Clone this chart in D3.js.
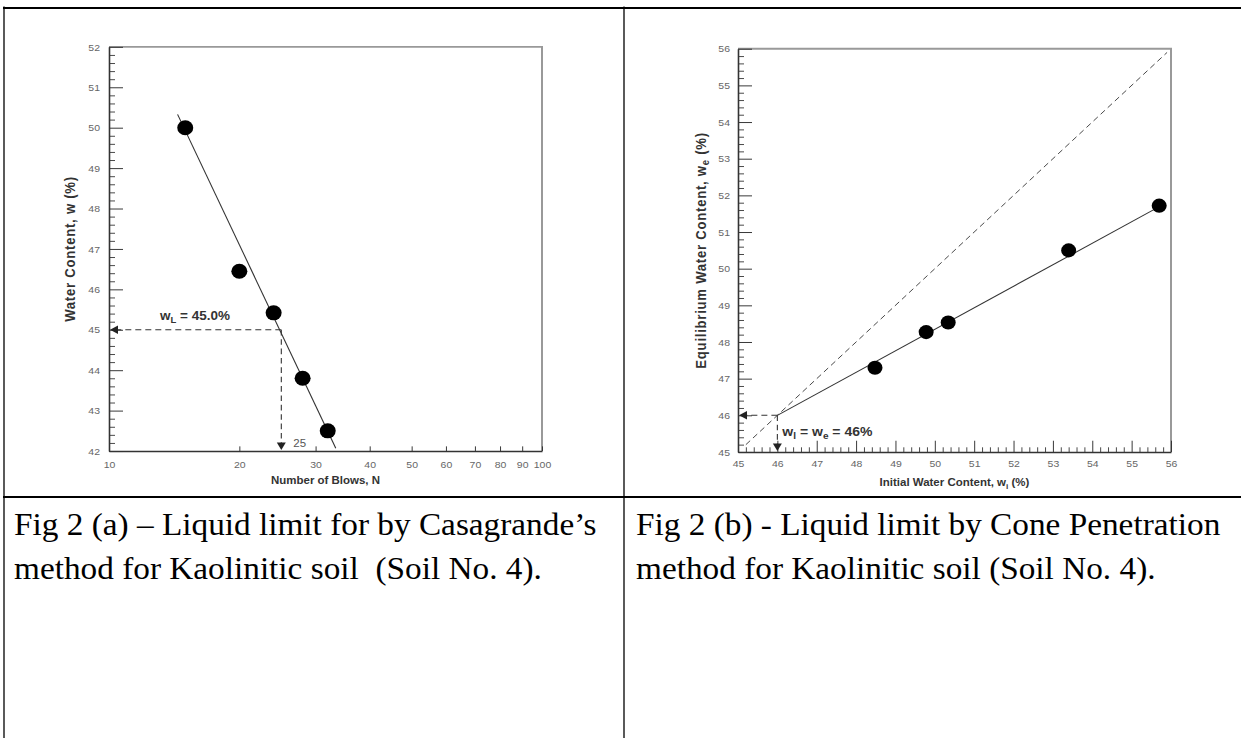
<!DOCTYPE html>
<html><head><meta charset="utf-8">
<script src="https://cdn.jsdelivr.net/npm/d3@7"></script>
<style>body{margin:0;background:#fff}svg{display:block}</style>
</head><body><svg id="c" width="1241" height="738" viewBox="0 0 1241 787" preserveAspectRatio="none"></svg>
<script>
// ---- Fig 2(a): Casagrande ----
const blowsN = [15, 20, 24, 28, 32];
const waterW = [50.0, 46.45, 45.42, 43.8, 42.5];
const fitBlows = [14.4, 33.4];
const fitWater = [50.33, 42.07];
const blowTicks = [10, 20, 30, 40, 50, 60, 70, 80, 90, 100];
const blowTickLabels = ["10", "20", "30", "40", "50", "60", "70", "80", "90", "100"];
const waterTicks = [42, 43, 44, 45, 46, 47, 48, 49, 50, 51, 52];
const liquidLimitA = 45.0;
const blowsAtLimit = 25;

// ---- Fig 2(b): Cone penetration ----
const initialW = [48.48, 49.78, 50.34, 53.4, 55.7];
const equilW = [47.3, 48.27, 48.53, 50.5, 51.72];
const fitInitial = [46.0, 55.75];
const fitEquil = [46.0, 51.72];
const equalityLine = [45.2, 55.9];
const contentTicks = [45, 46, 47, 48, 49, 50, 51, 52, 53, 54, 55, 56];
const liquidLimitB = 46;

const captionA = ["Fig 2 (a) \u2013 Liquid limit for by Casagrande\u2019s", "method for Kaolinitic soil  (Soil No. 4)."];
const captionB = ["Fig 2 (b) - Liquid limit by Cone Penetration", "method for Kaolinitic soil (Soil No. 4)."];

const svg = d3.select("#c");
const SANS = "'Liberation Sans', Arial, sans-serif";
const SERIF = "'Liberation Serif', 'Times New Roman', serif";

// ---- table borders ----
const divY = 530;
svg.append("line").attr("x1", 3).attr("x2", 1241).attr("y1", 8.5).attr("y2", 8.5).attr("stroke", "#000").attr("stroke-width", 2.2);
svg.append("line").attr("x1", 4).attr("x2", 4).attr("y1", 7).attr("y2", 787).attr("stroke", "#000").attr("stroke-width", 1.3);
svg.append("line").attr("x1", 624).attr("x2", 624).attr("y1", 7).attr("y2", 787).attr("stroke", "#000").attr("stroke-width", 1.3);
svg.append("line").attr("x1", 3).attr("x2", 1241).attr("y1", divY).attr("y2", divY).attr("stroke", "#000").attr("stroke-width", 2.2);

function captions(lines, x) {
  lines.forEach((t, i) => {
    svg.append("text").attr("x", x).attr("y", divY + 41 + i * 46)
      .attr("font-family", SERIF).attr("font-size", 33.3).attr("fill", "#000")
      .style("white-space", "pre").text(t);
  });
}
captions(captionA, 14);
captions(captionB, 636);

function styleAxis(g) {
  g.selectAll("text").attr("font-family", SANS).attr("font-size", 10.5).attr("fill", "#666");
  g.selectAll("line").attr("stroke", "#333");
  g.selectAll("path").attr("stroke", "#333").attr("stroke-width", 1.6);
}
function arrow(x, y, dir) {
  const s = 4.5, l = 8;
  let p;
  if (dir === "left") p = `M${x},${y}L${x + l},${y - s}L${x + l},${y + s}Z`;
  else p = `M${x},${y}L${x - s},${y - l}L${x + s},${y - l}Z`;
  svg.append("path").attr("d", p).attr("fill", "#222");
}
function frame(x0, x1, y0, y1) {
  svg.append("path").attr("d", `M${x0},${y0}L${x1},${y0}L${x1},${y1}`)
    .attr("fill", "none").attr("stroke", "#999").attr("stroke-width", 2);
}
// parts: plain strings, or ["sub", text] for subscripts
function richText(t, parts, subSize) {
  let shift = 0;
  parts.forEach(p => {
    const isSub = Array.isArray(p);
    const want = isSub ? 3 : 0;
    const s = t.append("tspan").text(isSub ? p[1] : p);
    if (want !== shift) s.attr("dy", want - shift);
    if (isSub) s.attr("font-size", subSize);
    shift = want;
  });
}
function title(x, y, rotate, parts, size, spacing) {
  const t = svg.append("text")
    .attr("transform", `translate(${x},${y})` + (rotate ? " rotate(-90)" : ""))
    .attr("text-anchor", "middle").attr("font-family", SANS).attr("font-weight", "bold")
    .attr("font-size", size).attr("letter-spacing", spacing).attr("fill", "#333");
  richText(t, parts, size * 0.72);
  return t;
}

// ================= LEFT CHART =================
const xL = d3.scaleLog().domain([10, 100]).range([109, 542]);
const yL = d3.scaleLinear().domain([42, 52]).range([481, 50]);
frame(109, 542, 50, 481);

const minorL = d3.range(42, 52.001, 0.2).filter(v => Math.abs(v - Math.round(v)) > 0.01);
svg.append("g").attr("transform", "translate(109,0)")
  .call(d3.axisLeft(yL).tickValues(minorL).tickSize(-6).tickFormat(""))
  .call(g => { g.select(".domain").remove(); g.selectAll("line").attr("stroke", "#444"); });
svg.append("g").attr("transform", "translate(109,0)")
  .call(d3.axisLeft(yL).tickValues(waterTicks).tickSize(-14).tickSizeOuter(0).tickPadding(9).tickFormat(d3.format("d")))
  .call(styleAxis);
svg.append("g").attr("transform", "translate(0,481)")
  .call(d3.axisBottom(xL).tickValues(blowTicks).tickSize(-5).tickSizeOuter(0).tickPadding(11)
    .tickFormat((d, i) => blowTickLabels[i]))
  .call(styleAxis);

title(75, (50 + 481) / 2, true, ["Water Content, w (%)"], 14, 0.8);
title((109 + 542) / 2, 516, false, ["Number of Blows, N"], 11.5, 0);

// fit line
svg.append("line").attr("x1", xL(fitBlows[0])).attr("y1", yL(fitWater[0]))
  .attr("x2", xL(fitBlows[1])).attr("y2", yL(fitWater[1])).attr("stroke", "#333").attr("stroke-width", 1.1);
// dashed guides
const gx = xL(blowsAtLimit), gy = yL(liquidLimitA);
svg.append("path").attr("d", `M${gx},${gy}L${xL(10) + 6},${gy}M${gx},${gy}L${gx},${yL(42) - 6}`)
  .attr("fill", "none").attr("stroke", "#333").attr("stroke-width", 1.1).attr("stroke-dasharray", "6,4");
arrow(xL(10) + 1, gy, "left");
arrow(gx, yL(42) - 1, "down");
const tA = svg.append("text").attr("x", 160).attr("y", gy - 10).attr("font-family", SANS)
  .attr("font-weight", "bold").attr("font-size", 13.5).attr("fill", "#333");
richText(tA, ["w", ["sub", "L"], " = " + liquidLimitA.toFixed(1) + "%"], 9.5);
svg.append("text").attr("x", gx + 12).attr("y", yL(42) - 4).attr("font-family", SANS)
  .attr("font-size", 11.5).attr("fill", "#555").text(String(blowsAtLimit));

svg.append("g").selectAll("circle").data(blowsN).join("circle")
  .attr("cx", d => xL(d)).attr("cy", (d, i) => yL(waterW[i])).attr("r", 8).attr("fill", "#000");

// ================= RIGHT CHART =================
const xR = d3.scaleLinear().domain([45, 56]).range([738, 1171]);
const yR = d3.scaleLinear().domain([45, 56]).range([482, 52]);
frame(738, 1171, 52, 482);
const minorR = d3.range(45, 56.001, 0.2).filter(v => Math.abs(v - Math.round(v)) > 0.01);
svg.append("g").attr("transform", "translate(738,0)")
  .call(d3.axisLeft(yR).tickValues(minorR).tickSize(-6).tickFormat(""))
  .call(g => { g.select(".domain").remove(); g.selectAll("line").attr("stroke", "#444"); });
svg.append("g").attr("transform", "translate(0,482)")
  .call(d3.axisBottom(xR).tickValues(minorR).tickSize(-5).tickFormat(""))
  .call(g => { g.select(".domain").remove(); g.selectAll("line").attr("stroke", "#444"); });
svg.append("g").attr("transform", "translate(738,0)")
  .call(d3.axisLeft(yR).tickValues(contentTicks).tickSize(-14).tickSizeOuter(0).tickPadding(8).tickFormat(d3.format("d")))
  .call(styleAxis);
svg.append("g").attr("transform", "translate(0,482)")
  .call(d3.axisBottom(xR).tickValues(contentTicks).tickSize(-12).tickSizeOuter(0).tickPadding(9).tickFormat(d3.format("d")))
  .call(styleAxis);

title(706, (52 + 482) / 2, true, ["Equilibrium Water Content, w", ["sub", "e"], " (%)"], 14, 0.8);
title((738 + 1171) / 2, 518, false, ["Initial Water Content, w", ["sub", "i"], " (%)"], 11.5, 0);

// 1:1 line
svg.append("line").attr("x1", xR(equalityLine[0])).attr("y1", yR(equalityLine[0]))
  .attr("x2", xR(equalityLine[1])).attr("y2", yR(equalityLine[1]))
  .attr("stroke", "#444").attr("stroke-width", 1).attr("stroke-dasharray", "6,4");
// fit line
svg.append("line").attr("x1", xR(fitInitial[0])).attr("y1", yR(fitEquil[0]))
  .attr("x2", xR(fitInitial[1])).attr("y2", yR(fitEquil[1])).attr("stroke", "#333").attr("stroke-width", 1.1);
// guides
const hx = xR(liquidLimitB), hy = yR(liquidLimitB);
svg.append("path").attr("d", `M${hx},${hy}L${xR(45) + 6},${hy}M${hx},${hy}L${hx},${yR(45) - 6}`)
  .attr("fill", "none").attr("stroke", "#333").attr("stroke-width", 1.1).attr("stroke-dasharray", "6,4");
arrow(xR(45) + 1, hy, "left");
arrow(hx, yR(45) - 1, "down");
const tB = svg.append("text").attr("x", hx + 5).attr("y", hy + 22).attr("font-family", SANS)
  .attr("font-weight", "bold").attr("font-size", 14).attr("fill", "#333");
richText(tB, ["w", ["sub", "l"], " = w", ["sub", "e"], " = " + liquidLimitB + "%"], 10);

svg.append("g").selectAll("circle").data(initialW).join("circle")
  .attr("cx", d => xR(d)).attr("cy", (d, i) => yR(equilW[i])).attr("r", 7.5).attr("fill", "#000");
</script></body></html>
